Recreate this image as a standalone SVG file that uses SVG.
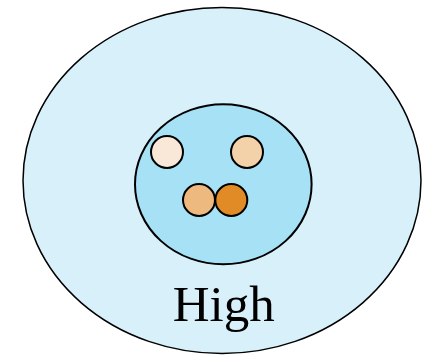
<svg xmlns="http://www.w3.org/2000/svg" width="422" height="358" viewBox="0 0 422 358">
<style>
.e{stroke:#000;stroke-width:1.5}
.c{stroke:#000;stroke-width:2}
.t{font-family:"Liberation Serif",serif;font-size:51px;fill:#000}
</style>
<rect width="422" height="358" fill="#fff"/>
<g id="outer"><ellipse class="e" cx="222" cy="180.5" rx="199" ry="173" fill="#d7f0fa"/></g>
<g id="inner"><ellipse class="c" cx="223.3" cy="184.3" rx="88.3" ry="80" fill="#a6e1f6"/></g>
<g id="n1"><circle class="c" cx="167" cy="152" r="16" fill="#f9e8d8"/></g>
<g id="n2"><circle class="c" cx="247" cy="152" r="16" fill="#f3d1a9"/></g>
<g id="n3"><circle class="c" cx="199" cy="200" r="16" fill="#edb97e"/></g>
<g id="n4"><circle class="c" cx="231.3" cy="200" r="16" fill="#e08b25"/></g>
<g id="label"><text class="t" x="223.7" y="321" text-anchor="middle">High</text></g>
<g id="connectors"/>
</svg>
